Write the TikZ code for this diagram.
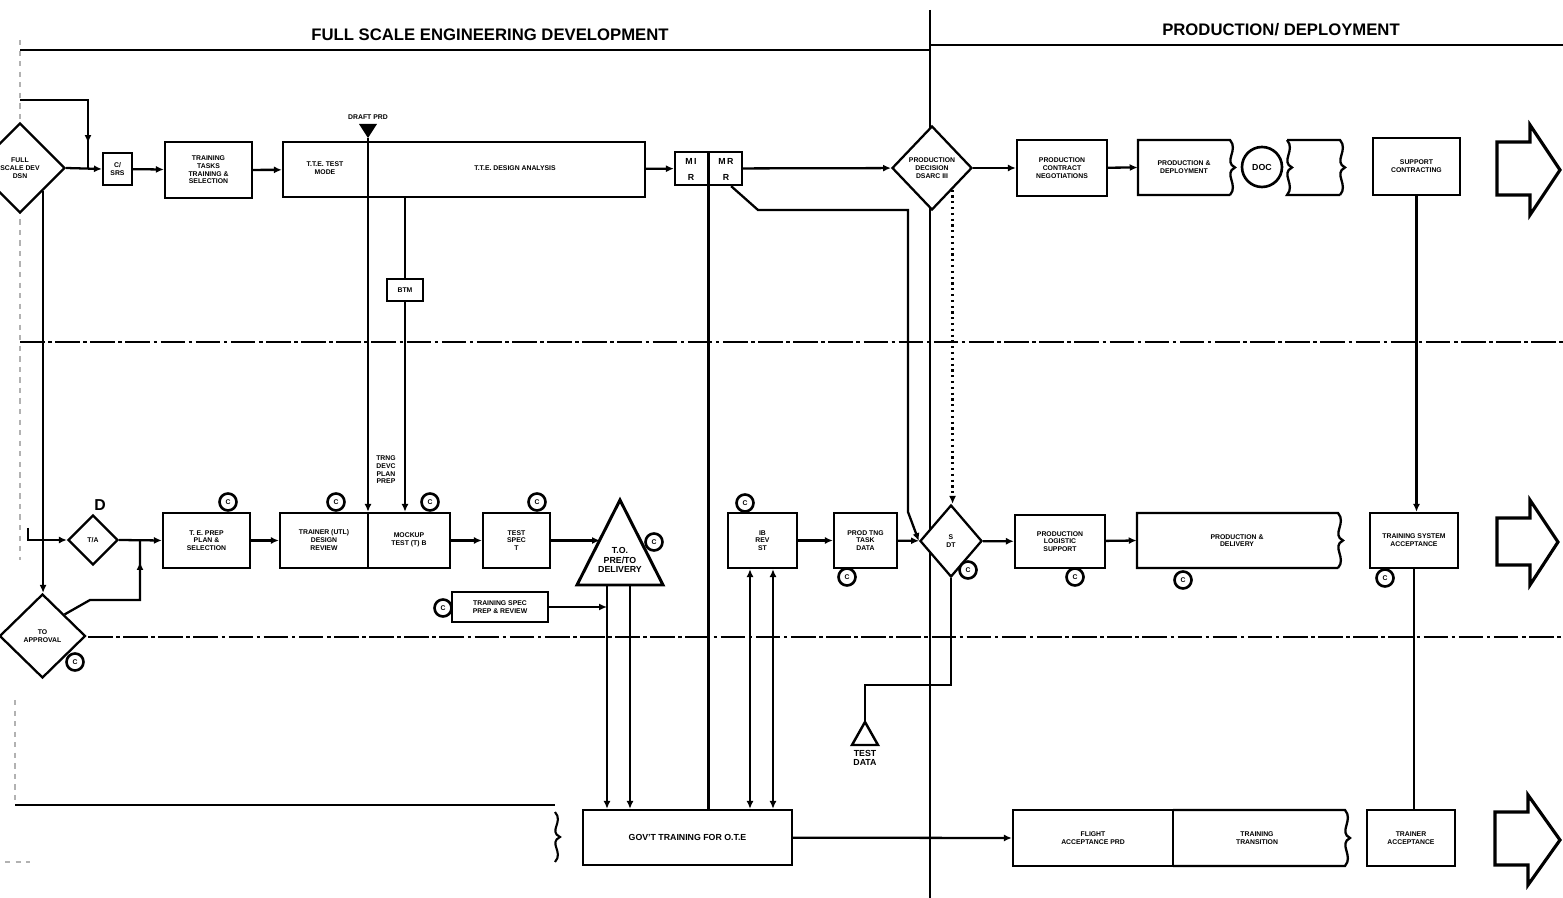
\documentclass[tikz,border=0pt]{standalone}
\usepackage{fontspec}
\setmainfont{Liberation Sans}
\usetikzlibrary{shapes.geometric,arrows.meta}
\newcommand\tinyfont{\fontsize{3.9}{4.4}\selectfont\bfseries}
\newcommand\smallfont{\fontsize{5}{5.6}\selectfont\bfseries}
\begin{document}
\begin{tikzpicture}[x=0.2mm,y=-0.2mm]
\tikzset{
 ln/.style={line width=1.3pt},
 arr/.style={ln,-{Latex[length=4.5pt,width=4pt]}},
 darr/.style={ln,{Latex[length=4.5pt,width=4pt]}-{Latex[length=4.5pt,width=4pt]}},
 box/.style={draw,line width=1.3pt,fill=white,inner sep=0pt,align=center,font=\tinyfont},
 dia/.style={diamond,shape aspect=1,draw,line width=1.3pt,fill=white,inner sep=0pt,align=center,font=\tinyfont},
 tag/.style={circle,draw,line width=1.5pt,fill=white,minimum size=3.4mm,inner sep=0pt,font=\tinyfont},
 lane/.style={line width=1.3pt,dash pattern=on 14pt off 2pt on 2pt off 2pt},
 hdr/.style={font=\fontsize{9.5}{10}\selectfont\bfseries,inner sep=0pt},
 txt/.style={font=\tinyfont,align=center,inner sep=0pt},
 faint/.style={line width=0.6pt,gray!60,dashed},
 hollow/.style={draw,line width=1.8pt,fill=white,line join=miter},
 edge/.style={line width=1.3pt},
}
\useasboundingbox (0,0) rectangle (1563,898);
% ---------- frame, lanes, headers ----------
\draw[faint] (20,40) -- (20,560);
\draw[faint] (15,700) -- (15,805);
\draw[line width=1.5pt] (20,50) -- (930,50);
\draw[line width=1.5pt] (930,45) -- (1563,45);
\draw[line width=1.5pt] (930,10) -- (930,898);
\draw[lane] (20,342) -- (1563,342);
\draw[lane] (88,637) -- (1563,637);
\draw[line width=1.2pt] (15,805) -- (555,805);
\draw[line width=1.2pt] (555,812) .. controls (564,822) and (548,831) .. (560,837) .. controls (548,843) and (564,852) .. (555,862);
\draw[faint] (5,862) -- (30,862);
\node[hdr] (h1) at (490,35) {FULL SCALE ENGINEERING DEVELOPMENT};
\node[hdr] (h2) at (1281,30) {PRODUCTION/ DEPLOYMENT};
% ---------- top row ----------
\node[dia,minimum width=18mm,minimum height=18mm] (ld) at (20,168) {FULL\\SCALE DEV\\DSN};
\node[box,minimum width=5.8mm,minimum height=6.4mm] (sbox) at (117.5,169) {C/\\SRS};
\node[box,minimum width=17.4mm,minimum height=11.2mm] (b1) at (208.5,170) {TRAINING\\TASKS\\TRAINING \&\\SELECTION};
\node[box,minimum width=72.4mm,minimum height=11mm] (b2) at (464,169.5) {};
\node[txt] (b2a) at (325,168) {T.T.E. TEST\\MODE};
\node[txt] (b2b) at (515,168) {T.T.E. DESIGN ANALYSIS};
\coordinate (dpt) at (368,138);
\fill (359,124) -- (377,124) -- (dpt) -- cycle;
\node[txt] (dprd) at (368,117) {DRAFT PRD};
\node[box,minimum width=13.4mm,minimum height=6.6mm] (milc) at (708.5,168.5) {};
\draw[edge] (708.5,152) -- (708.5,185);
\node[txt,font=\smallfont] (m1a) at (691,161) {M\,I};
\node[txt,font=\smallfont] (m1b) at (726,161) {M\,R};
\node[txt,font=\smallfont] (m1c) at (691,177) {R};
\node[txt,font=\smallfont] (m1d) at (726,177) {R};
\node[dia,minimum width=16mm,minimum height=16.8mm] (pd) at (932,168) {PRODUCTION\\DECISION\\DSARC III};
\node[box,minimum width=18mm,minimum height=11.2mm] (pcn) at (1062,168) {PRODUCTION\\CONTRACT\\NEGOTIATIONS};
\node[txt,minimum width=18.4mm,minimum height=11mm] (pdp) at (1184,167.5) {PRODUCTION \&\\DEPLOYMENT};
\draw[edge] (1230,195) -- (1138,195) -- (1138,140) -- (1230,140) .. controls (1239,150) and (1223,161.5) .. (1235,167.5) .. controls (1223,173.5) and (1239,185) .. (1230,195);
\node[circle,draw,line width=1.5pt,minimum size=8mm,inner sep=0pt,font=\smallfont] (doc) at (1262,167) {DOC};
\draw[edge] (1287,140) .. controls (1296,150) and (1280,161.5) .. (1292,167.5) .. controls (1280,173.5) and (1296,185) .. (1287,195) -- (1340,195);
\draw[edge] (1287,140) -- (1340,140) .. controls (1349,150) and (1333,161.5) .. (1345,167.5) .. controls (1333,173.5) and (1349,185) .. (1340,195);
\node[box,minimum width=17.4mm,minimum height=11.4mm] (sup) at (1416.5,166.5) {SUPPORT\\CONTRACTING};
\draw[hollow] (1497,142) -- (1530,142) -- (1530,125) -- (1560,170) -- (1530,215) -- (1530,195) -- (1497,195) -- cycle;
% ---------- middle row ----------
\node[dia,minimum width=10mm,minimum height=10mm] (tad) at (93,540) {T/A};
\node[txt,font=\fontsize{9}{9}\selectfont\bfseries] (dsym) at (100,505) {D};
\node[dia,minimum width=17.2mm,minimum height=16.8mm] (ld2) at (42.5,636) {TO\\APPROVAL};
\node[box,minimum width=17.4mm,minimum height=11mm] (m1) at (206.5,540.5) {T. E. PREP\\PLAN \&\\SELECTION};
\node[box,minimum width=34mm,minimum height=11mm] (m2) at (365,540.5) {};
\draw[edge] (368,513) -- (368,568);
\node[txt] (m2a) at (324,540) {TRAINER (UTL)\\DESIGN\\REVIEW};
\node[txt] (m2b) at (409,540) {MOCKUP\\TEST (T) B};
\node[box,minimum width=13.4mm,minimum height=11mm] (m3) at (516.5,540.5) {TEST\\SPEC\\T};
\draw[line width=1.7pt,fill=white,line join=miter] (620,500) -- (663,585) -- (577,585) -- cycle;
\node[txt,font=\smallfont] (tri) at (620,560) {T.O.\\PRE/TO\\DELIVERY};
\coordinate (trl) at (600,540.5);
\coordinate (trs) at (607,607);
\coordinate (tb1) at (607,585);
\coordinate (tb2) at (630,585);
\node[box,minimum width=19.2mm,minimum height=6mm] (sb) at (500,607) {TRAINING SPEC\\PREP \& REVIEW};
\node[box,minimum width=13.8mm,minimum height=11mm] (ib) at (762.5,540.5) {IB\\REV\\ST};
\node[box,minimum width=12.6mm,minimum height=11mm] (ptd) at (865.5,540.5) {PROD TNG\\TASK\\DATA};
\node[dia,minimum width=12.4mm,minimum height=14.4mm] (md) at (951,541) {S\\DT};
\node[box,minimum width=18mm,minimum height=10.6mm] (pr1) at (1060,541.5) {PRODUCTION\\LOGISTIC\\SUPPORT};
\node[txt,minimum width=40mm,minimum height=11mm] (pr2) at (1237,540.5) {PRODUCTION \&\\DELIVERY};
\draw[edge] (1338,568) -- (1137,568) -- (1137,513) -- (1338,513) .. controls (1347,523) and (1331,534.5) .. (1343,540.5) .. controls (1331,546.5) and (1347,558) .. (1338,568);
\node[box,minimum width=17.6mm,minimum height=11mm] (ts) at (1414,540.5) {TRAINING SYSTEM\\ACCEPTANCE};
\draw[hollow] (1497,518) -- (1530,518) -- (1530,500) -- (1558,542) -- (1530,585) -- (1530,565) -- (1497,565) -- cycle;
\node[box,minimum width=7.2mm,minimum height=4.4mm] (btm) at (405,290) {BTM};
\node[txt] (tdl) at (386,470) {TRNG\\DEVC\\PLAN\\PREP};
% test data triangle
\coordinate (ttop) at (865,722);
\draw[line width=1.4pt,fill=white] (ttop) -- (878,745) -- (852,745) -- cycle;
\node[txt,font=\smallfont] (tdat) at (865,758) {TEST\\DATA};
% ---------- bottom row ----------
\node[box,minimum width=41.8mm,minimum height=11mm,font=\smallfont] (govt) at (687.5,837.5) {GOV'T TRAINING FOR O.T.E};
\node[box,minimum width=32mm,minimum height=11.2mm] (fa) at (1093,838) {FLIGHT\\ACCEPTANCE PRD};
\node[txt] (fa2) at (1257,838) {TRAINING\\TRANSITION};
\draw[edge] (1173,810) -- (1345,810) .. controls (1354,820) and (1338,832) .. (1350,838) .. controls (1338,844) and (1354,856) .. (1345,866) -- (1173,866);
\node[box,minimum width=17.6mm,minimum height=11.2mm] (ta) at (1411,838) {TRAINER\\ACCEPTANCE};
\draw[hollow] (1495,812) -- (1528,812) -- (1528,795) -- (1560,840) -- (1528,885) -- (1528,865) -- (1495,865) -- cycle;
% ---------- tags ----------
\foreach \p/\n in {(228,502)/ta1,(336,502)/ta2,(430,502)/ta3,(537,502)/ta4,(745,503)/ta5,(654,542)/ta6,(443,608)/ta7,(847,577)/ta8,(968,570)/ta9,(1075,577)/ta10,(1183,580)/ta11,(1385,578)/ta12,(75,662)/ta13}
  \node[tag] (\n) at \p {C};
% ---------- connectors ----------
\draw[ln] (20,100) -- (88,100) -- (88,168);
\draw[arr] (88,100) -- (88,143);
\draw[arr] (ld.east) -- (sbox.west);
\draw[arr] (sbox) -- (b1);
\draw[arr] (b1) -- (b2);
\draw[arr] (b2) -- (milc);
\draw[arr] (milc) -- (pd);
\draw[arr] (pd) -- (pcn);
\draw[arr] (pcn) -- (pdp.west);
\draw[arr] (sup.south) -- (sup.south |- ts.north);
\draw[ln] (ts.south) -- (ts.south |- ta.north);
\draw[arr] (dpt) -- (dpt |- m2.north);
\draw[arr] (btm.south) -- (btm.south |- m2.north);
\draw[ln] (btm.north) -- (btm.north |- b2.south);
\draw[ln] (milc.south) -- (milc.south |- govt.north);
\draw[arr] ([xshift=-2.4mm]milc.south east) -- (758,210) -- (908,210) -- (908,512) -- (md.west);
\draw[line width=1.3pt,dotted,-{Latex[length=4.5pt,width=4pt]}] (pd.south east) -- (pd.south east |- md.north);
\draw[arr] (ld.south east) -- (ld.south east |- ld2.north);
\draw[ln] (28,528) -- (28,540) -- (42.5,540);
\draw[arr] (28,540) -- (tad.west);
\draw[arr] (tad.east) -- (m1.west);
\draw[ln] (ld2.north east) -- (90,600) -- (140,600) -- (140,540);
\draw[arr] (140,600) -- (140,562);
\draw[arr] (m1) -- (m2);
\draw[arr] (m2) -- (m3);
\draw[arr] (m3.east) -- (trl);
\draw[arr] (sb.east) -- (trs);
\draw[arr] (tb1) -- (tb1 |- govt.north);
\draw[arr] (tb2) -- (tb2 |- govt.north);
\draw[darr] ([xshift=-2.5mm]ib.south) -- ([xshift=-2.5mm]ib.south |- govt.north);
\draw[darr] ([xshift=2.1mm]ib.south) -- ([xshift=2.1mm]ib.south |- govt.north);
\draw[arr] (ib) -- (ptd);
\draw[arr] (ptd) -- (md);
\draw[arr] (md) -- (pr1);
\draw[arr] (pr1) -- (pr2.west);
\draw[ln] (md.south) |- (865,685) -- (ttop);
\draw[arr] (govt) -- (fa.west);
\end{tikzpicture}
\end{document}
